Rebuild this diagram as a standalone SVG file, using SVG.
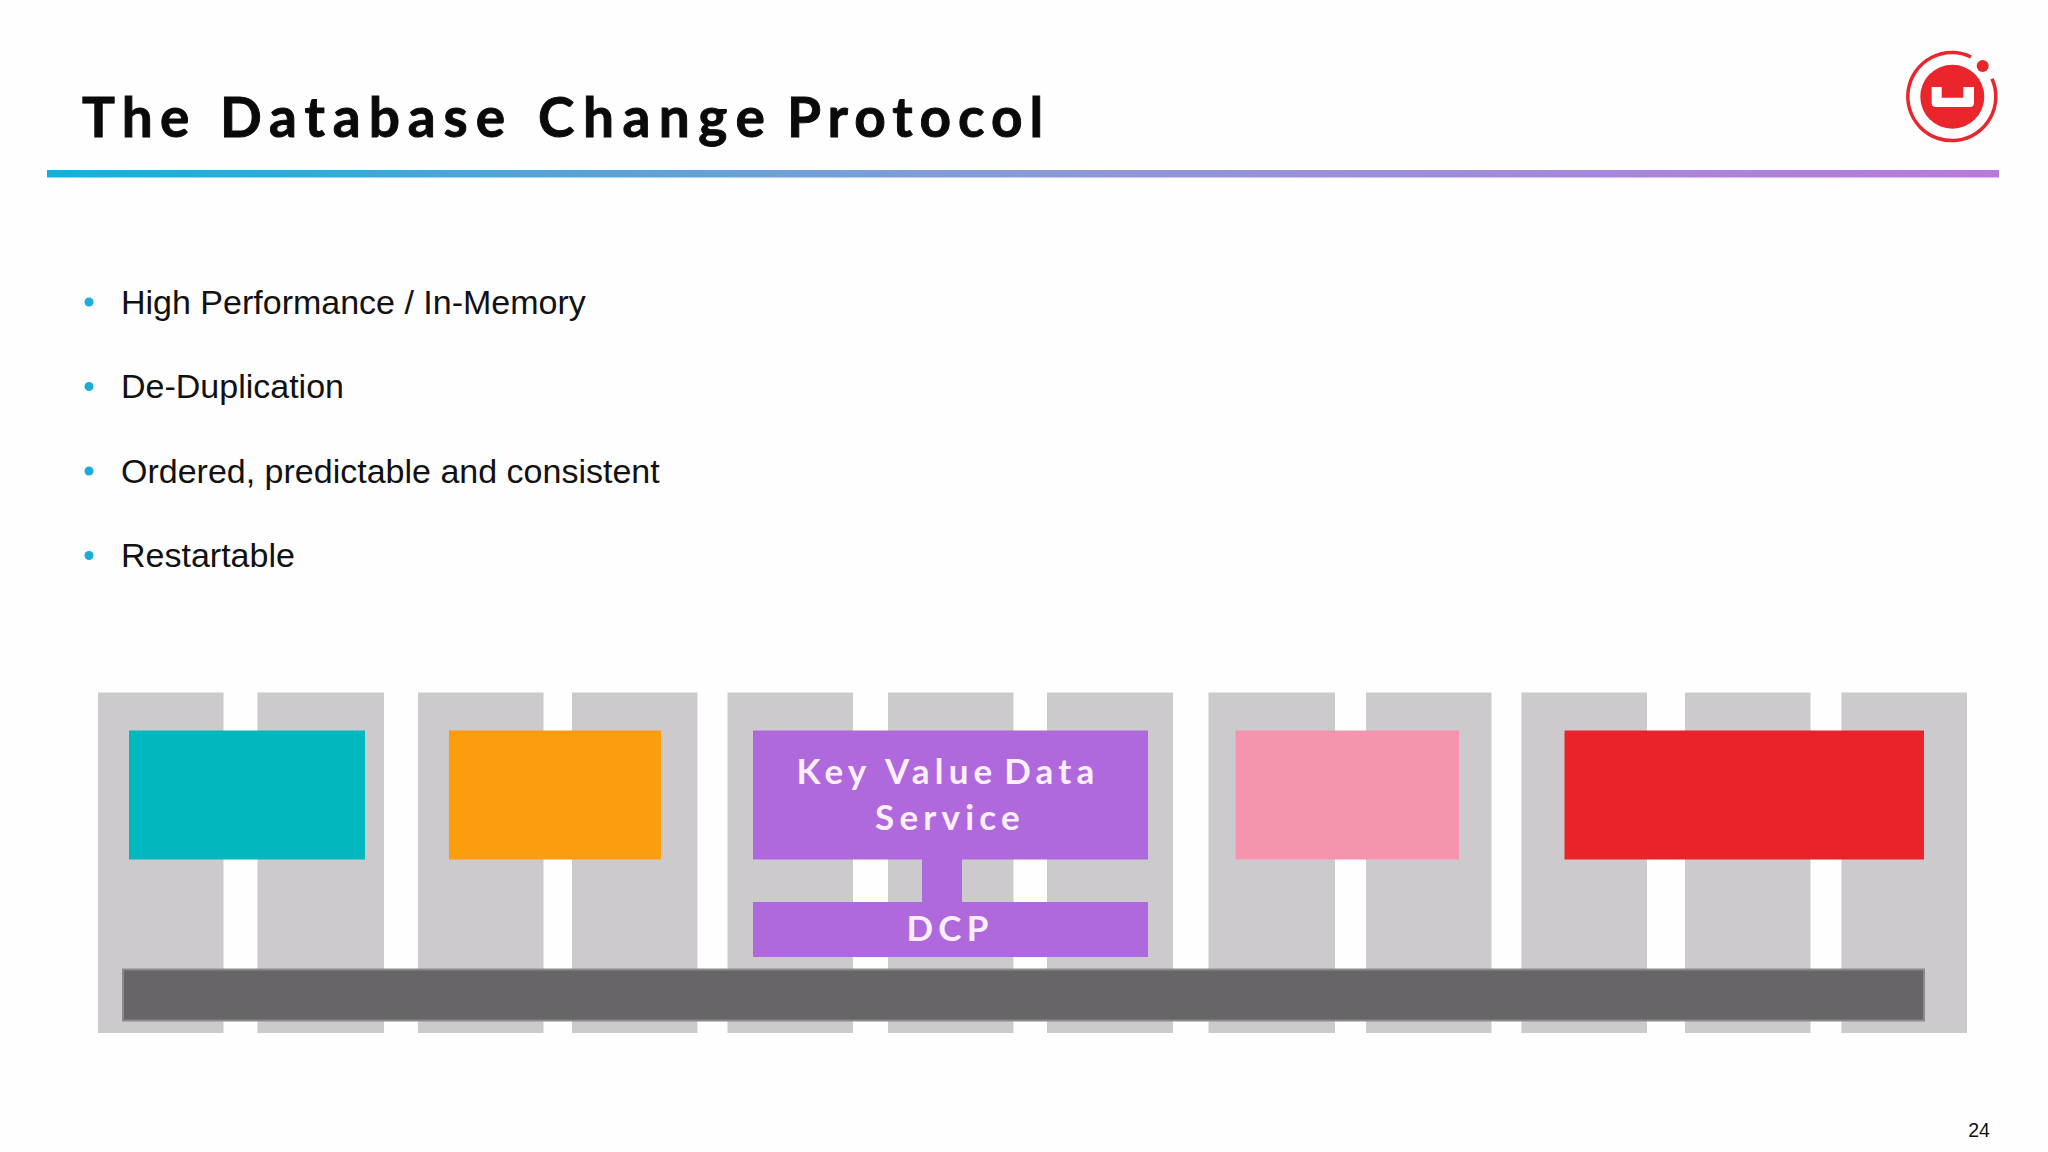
<svg xmlns="http://www.w3.org/2000/svg" width="2048" height="1152" viewBox="0 0 2048 1152">
<style>
.col{fill:#cccacc}
.title{font:bold 55px "Lato","Liberation Sans",sans-serif;fill:#0a0a0a;letter-spacing:7.6px;stroke:#0a0a0a;stroke-width:.9px}
.bul{font:34px "Liberation Sans",Arial,sans-serif;fill:#111}
.dot{fill:#1cacd8}
.lab{font:bold 35px "Lato","Liberation Sans",sans-serif;fill:#fbeffd;letter-spacing:5.2px;word-spacing:-3px;text-anchor:middle}
.pur{fill:#b069dc}
</style>
<defs>
<linearGradient id="rule" x1="0" x2="1" y1="0" y2="0">
<stop offset="0" stop-color="#17aede"/>
<stop offset="0.5" stop-color="#8b9bd8"/>
<stop offset="1" stop-color="#b978df"/>
</linearGradient>
</defs>
<rect width="2048" height="1152" fill="#fefefe"/>
<g id="header">
<text class="title" y="137"><tspan x="82" letter-spacing="7.3">The</tspan><tspan x="220" letter-spacing="7.9">Database</tspan><tspan x="538" letter-spacing="8.5">Change</tspan><tspan x="787" letter-spacing="6.95">Protocol</tspan></text>
<rect x="47" y="170" width="1952" height="7.5" fill="url(#rule)"/>
</g>
<g id="logo">
<path d="M1992 78.700A44 44 0 1 1 1971 57" fill="none" stroke="#e8262c" stroke-width="3.500"/>
<circle cx="1952.300" cy="96.700" r="32" fill="#e8262c"/>
<circle cx="1982.700" cy="66" r="6" fill="#e8262c"/>
<path d="M1931.700 87H1941.700V97.700H1963.300V87H1974V103Q1974 107 1970 107H1935.700Q1931.700 107 1931.700 103Z" fill="#fff"/>
</g>
<g id="bullets">
<circle class="dot" cx="89" cy="302" r="4.500"/><text class="bul" x="121" y="313.500">High Performance / In-Memory</text>
<circle class="dot" cx="89" cy="386.500" r="4.500"/><text class="bul" x="121" y="398">De-Duplication</text>
<circle class="dot" cx="89" cy="471" r="4.500"/><text class="bul" x="121" y="482.500">Ordered, predictable and consistent</text>
<circle class="dot" cx="89" cy="555.500" r="4.500"/><text class="bul" x="121" y="567">Restartable</text>
</g>
<g id="server-columns">
<rect class="col" x="98" y="692.500" width="125.500" height="340.500"/>
<rect class="col" x="257.500" y="692.500" width="126.500" height="340.500"/>
<rect class="col" x="418" y="692.500" width="125.500" height="340.500"/>
<rect class="col" x="572" y="692.500" width="125.500" height="340.500"/>
<rect class="col" x="727.500" y="692.500" width="125.500" height="340.500"/>
<rect class="col" x="888" y="692.500" width="125.500" height="340.500"/>
<rect class="col" x="1047" y="692.500" width="126" height="340.500"/>
<rect class="col" x="1208.500" y="692.500" width="126.500" height="340.500"/>
<rect class="col" x="1366" y="692.500" width="125.500" height="340.500"/>
<rect class="col" x="1521.500" y="692.500" width="125.500" height="340.500"/>
<rect class="col" x="1685" y="692.500" width="125.500" height="340.500"/>
<rect class="col" x="1841.500" y="692.500" width="125.500" height="340.500"/>
</g>
<g id="bus"><rect x="123" y="969.500" width="1801" height="51" fill="#676567" stroke="#8c8b8c" stroke-width="2"/></g>
<g id="service-teal"><rect x="129" y="730.500" width="236" height="129" fill="#02b8be"/></g>
<g id="service-orange"><rect x="449" y="730.500" width="212" height="129" fill="#fb9d0d"/></g>
<g id="connectors"><rect class="pur" x="922" y="859" width="40" height="43"/></g>
<g id="kv-service"><rect class="pur" x="753" y="730.500" width="395" height="129"/>
<text class="lab" x="948" y="784">Key <tspan dx="5">Value</tspan> <tspan dx="-4">Data</tspan></text>
<text class="lab" x="950" y="830" letter-spacing="4.8">Service</text></g>
<g id="dcp"><rect class="pur" x="753" y="902" width="395" height="55"/>
<text class="lab" x="950" y="941">DCP</text></g>
<g id="service-pink"><rect x="1235.500" y="730.500" width="223.500" height="129" fill="#f594ad"/></g>
<g id="service-red"><rect x="1564.500" y="730.500" width="359.500" height="129" fill="#ea232b"/></g>
<text x="1979" y="1137" font-family="Liberation Sans, Arial, sans-serif" font-size="19.500" fill="#111" text-anchor="middle">24</text>
</svg>
